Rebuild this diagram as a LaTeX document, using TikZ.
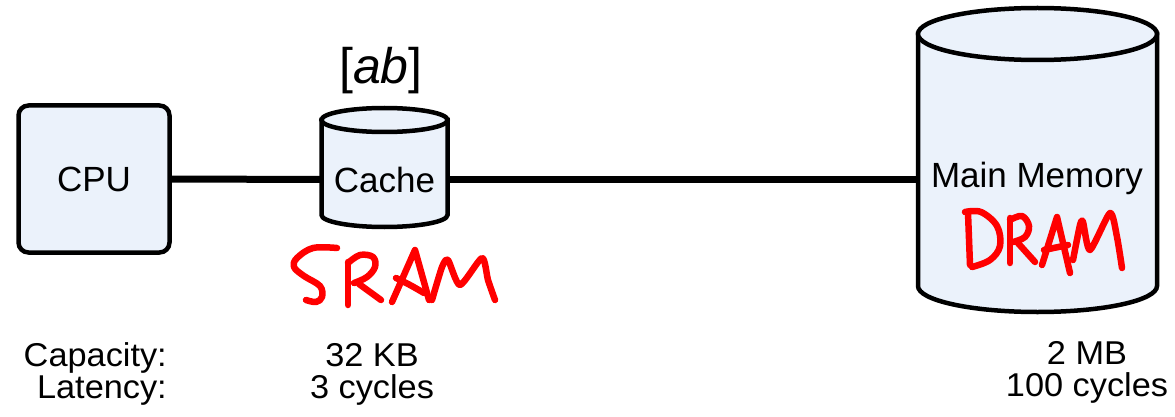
\documentclass[tikz,border=0pt]{standalone}
\usepackage{fontspec}
\setmainfont{Liberation Sans}
\begin{document}
\begin{tikzpicture}[x=1pt,y=-1pt,
  box/.style={draw=black,line width=4.5pt,fill=boxfill,rounded corners=10pt,
    minimum width=151pt,minimum height=147pt,inner sep=0pt},
  body/.style={draw=black,line width=4.5pt,fill=boxfill},
  span/.style={inner sep=0pt,outer sep=0pt},
  wire/.style={line width=7pt,draw=black},
  lbl/.style={font=\fontsize{35}{40}\selectfont,inner sep=0pt},
  stat/.style={font=\fontsize{33}{38}\selectfont,inner sep=0pt,xscale=1.04,
    text height=23pt,text depth=6pt},
  ink/.style={draw=handred,line width=6.5pt,line cap=round,line join=round}]
\definecolor{boxfill}{HTML}{EBF2FB}
\definecolor{handred}{HTML}{FF0000}
\useasboundingbox (0,0) rectangle (1175,417);

% processor
\node[box,lbl] (cpu) at (94,179) {CPU};

% cache cylinder
\path[body] (321.5,120) -- (321.5,215)
  arc[start angle=180,end angle=360,x radius=63pt,y radius=12pt] -- (447.5,120) -- cycle;
\path[body] (384.5,120) ellipse[x radius=63pt,y radius=12pt];
\node[span,minimum width=126pt,minimum height=95pt] (cache) at (384.5,179.5) {};
\node[lbl] (cachetxt) at (384.5,180) {Cache};
\node[inner sep=0pt,font=\fontsize{50}{54}\selectfont] (tag) at (381,71) {[\textit{ab}]};

% main memory cylinder
\path[body] (918,34) -- (918,286)
  arc[start angle=180,end angle=360,x radius=119.5pt,y radius=26pt] -- (1157,34) -- cycle;
\path[body] (1037.5,34) ellipse[x radius=119.5pt,y radius=26pt];
\node[span,minimum width=239pt,minimum height=200pt] (mem) at (1037.5,179.5) {};
\node[lbl,anchor=base] (memtxt) at (1037,187) {Main Memory};

% links
\draw[wire] (cpu.east) -- (cache.west);
\draw[wire] (cache.east) -- (mem.west);

% handwritten SRAM
\draw[ink] plot[smooth,tension=0.6] coordinates {(337,248) (313,248) (297,258) (294,267) (304,276) (320,286) (322,297) (316,302) (306,300)};
\draw[ink] (348,262) -- (348,305);
\draw[ink] plot[smooth,tension=0.6] coordinates {(348,263) (360,255) (373,257) (375,267) (367,277) (354,283)};
\draw[ink] (359,284) -- (381,300);
\draw[ink] (392,302) -- (415,250) -- (429,300);
\draw[ink] plot[smooth,tension=0.6] coordinates {(396,278) (410,285) (424,293)};
\draw[ink] plot[smooth,tension=0.4] coordinates {(432,300) (442,267) (448,260) (460,285) (482,258) (488,280) (495,300)};

% handwritten DRAM
\draw[ink] (968,213) -- (970,265);
\draw[ink] plot[smooth,tension=0.6] coordinates {(965,212) (981,212) (997,226) (1000,246) (990,260) (972,267)};
\draw[ink] (1010,218) -- (1010,263);
\draw[ink] plot[smooth,tension=0.6] coordinates {(1010,220) (1022,216) (1029,226) (1025,237) (1013,242)};
\draw[ink] (1017,242) -- (1035,262);
\draw[ink] (1042,265) -- (1057,217) -- (1070,273);
\draw[ink] (1044,250) -- (1068,245);
\draw[ink] plot[smooth,tension=0.4] coordinates {(1073,260) (1080,225) (1083,222) (1090,250) (1110,213) (1117,237) (1122,268)};

% figures below
\node[stat,anchor=base east] (caplbl) at (167,366) {Capacity:};
\node[stat,anchor=base east] (latlbl) at (167,398) {Latency:};
\node[stat,anchor=base] (capc) at (372,366) {32 KB};
\node[stat,anchor=base] (latc) at (372,398) {3 cycles};
\node[stat,anchor=base] (capm) at (1087,364) {2 MB};
\node[stat,anchor=base] (latm) at (1087,396) {100 cycles};
\end{tikzpicture}
\end{document}
